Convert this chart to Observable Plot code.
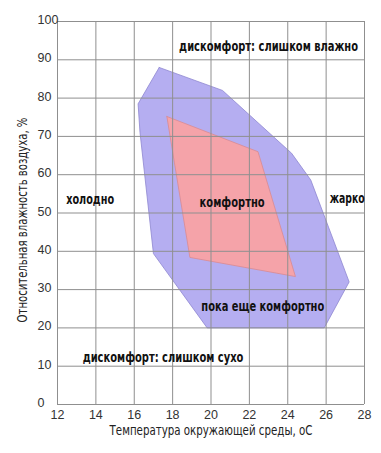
<!DOCTYPE html>
<html><head><meta charset="utf-8">
<script src="https://cdn.jsdelivr.net/npm/d3@7"></script>
<script src="https://cdn.jsdelivr.net/npm/@observablehq/plot@0.6"></script>
<style>body{margin:0;background:#fff} .narrow{font-stretch:condensed}</style>
</head><body><div id="chart"></div>
<script>
const xTicks = [12, 14, 16, 18, 20, 22, 24, 26, 28];
const yTicks = [0, 10, 20, 30, 40, 50, 60, 70, 80, 90, 100];

// "пока еще комфортно" zone (outer polygon): temperature, humidity
const outerT = [17.3, 20.6, 24.2, 25.2, 27.2, 25.9, 19.8, 17.0, 16.3, 16.2, 17.3];
const outerH = [88, 82, 65.6, 58.6, 32, 20, 20, 39.4, 71, 78.5, 88];
// "комфортно" zone (inner polygon)
const innerT = [17.7, 22.45, 24.4, 18.9, 17.7];
const innerH = [75.2, 66, 33.4, 38.4, 75.2];

const labelText = ["дискомфорт: слишком влажно", "холодно", "комфортно", "жарко", "пока еще комфортно", "дискомфорт: слишком сухо"];
const labelT = [23.0, 13.7, 21.1, 27.1, 22.7, 17.5];
const labelH = [93.5, 53.4, 52.8, 53.8, 25.6, 12.3];

const xTitle = "Температура окружающей среды, оС";
const yTitle = "Относительная влажность воздуха, %";

const outer = outerT.map((t, i) => ({t, h: outerH[i]}));
const inner = innerT.map((t, i) => ({t, h: innerH[i]}));
const labels = labelText.map((s, i) => ({s, t: labelT[i], h: labelH[i]}));

const narrow = "'DejaVu Sans Condensed', 'DejaVu Sans', sans-serif";

const chart = Plot.plot({
  width: 381, height: 453,
  marginLeft: 57, marginRight: 17, marginTop: 21, marginBottom: 49,
  x: {domain: [12, 28], axis: null},
  y: {domain: [0, 100], axis: null},
  style: {fontFamily: "'Liberation Sans', Arial, sans-serif", background: "white", color: "#222"},
  marks: [
    Plot.line(outer, {x: "t", y: "h", fill: "#b5aef1", stroke: "#8e86d0", strokeWidth: 0.8, curve: "linear"}),
    Plot.line(inner, {x: "t", y: "h", fill: "#f5a3a9", stroke: "#d98a92", strokeWidth: 0.8, curve: "linear"}),
    Plot.ruleX(xTicks, {x: d => d, stroke: "#8f8f8f", strokeWidth: 1}),
    Plot.ruleY(yTicks, {y: d => d, stroke: "#8f8f8f", strokeWidth: 1}),
    Plot.text(labels, {x: "t", y: "h", text: "s", fontFamily: narrow, fontWeight: "bold", fontSize: 14, fill: "#111", className: "narrow"}),
    Plot.text(xTicks, {x: d => d, text: d => String(d), frameAnchor: "bottom", dy: 10, lineAnchor: "middle", fontSize: 12.5, fill: "#333"}),
    Plot.text(yTicks, {y: d => d, text: d => String(d), frameAnchor: "left", dx: -20, dy: -1.5, textAnchor: "start", lineAnchor: "middle", fontSize: 12.5, fill: "#333"}),
    Plot.text([xTitle], {text: d => d, frameAnchor: "bottom", dy: 26, lineAnchor: "middle", textAnchor: "middle", fontFamily: narrow, fontSize: 13.5, fill: "#222", className: "narrow"}),
    Plot.text([yTitle], {text: d => d, frameAnchor: "left", dx: -35, dy: 7, rotate: -90, textAnchor: "middle", lineAnchor: "middle", fontFamily: narrow, fontSize: 13.5, fill: "#222", className: "narrow"})
  ]
});
document.getElementById("chart").appendChild(chart);

// condense texts (horizontally, about their anchor) to the widths they take in the reference
const fitWidth = new Map([
  [labelText[0], 179], [labelText[1], 48], [labelText[2], 65], [labelText[3], 35],
  [labelText[4], 123], [labelText[5], 161], [xTitle, 203], [yTitle, 205]
]);
d3.select(chart).selectAll("text").each(function () {
  const w = fitWidth.get(this.textContent);
  if (!w) return;
  const natural = this.getComputedTextLength();
  if (!natural) return;
  const k = w / natural;
  const x = parseFloat(this.getAttribute("x")) || 0;
  const t = this.getAttribute("transform") || "";
  this.setAttribute("transform", `${t} translate(${x},0) scale(${k},1)`);
  this.setAttribute("x", 0);
});
</script></body></html>
